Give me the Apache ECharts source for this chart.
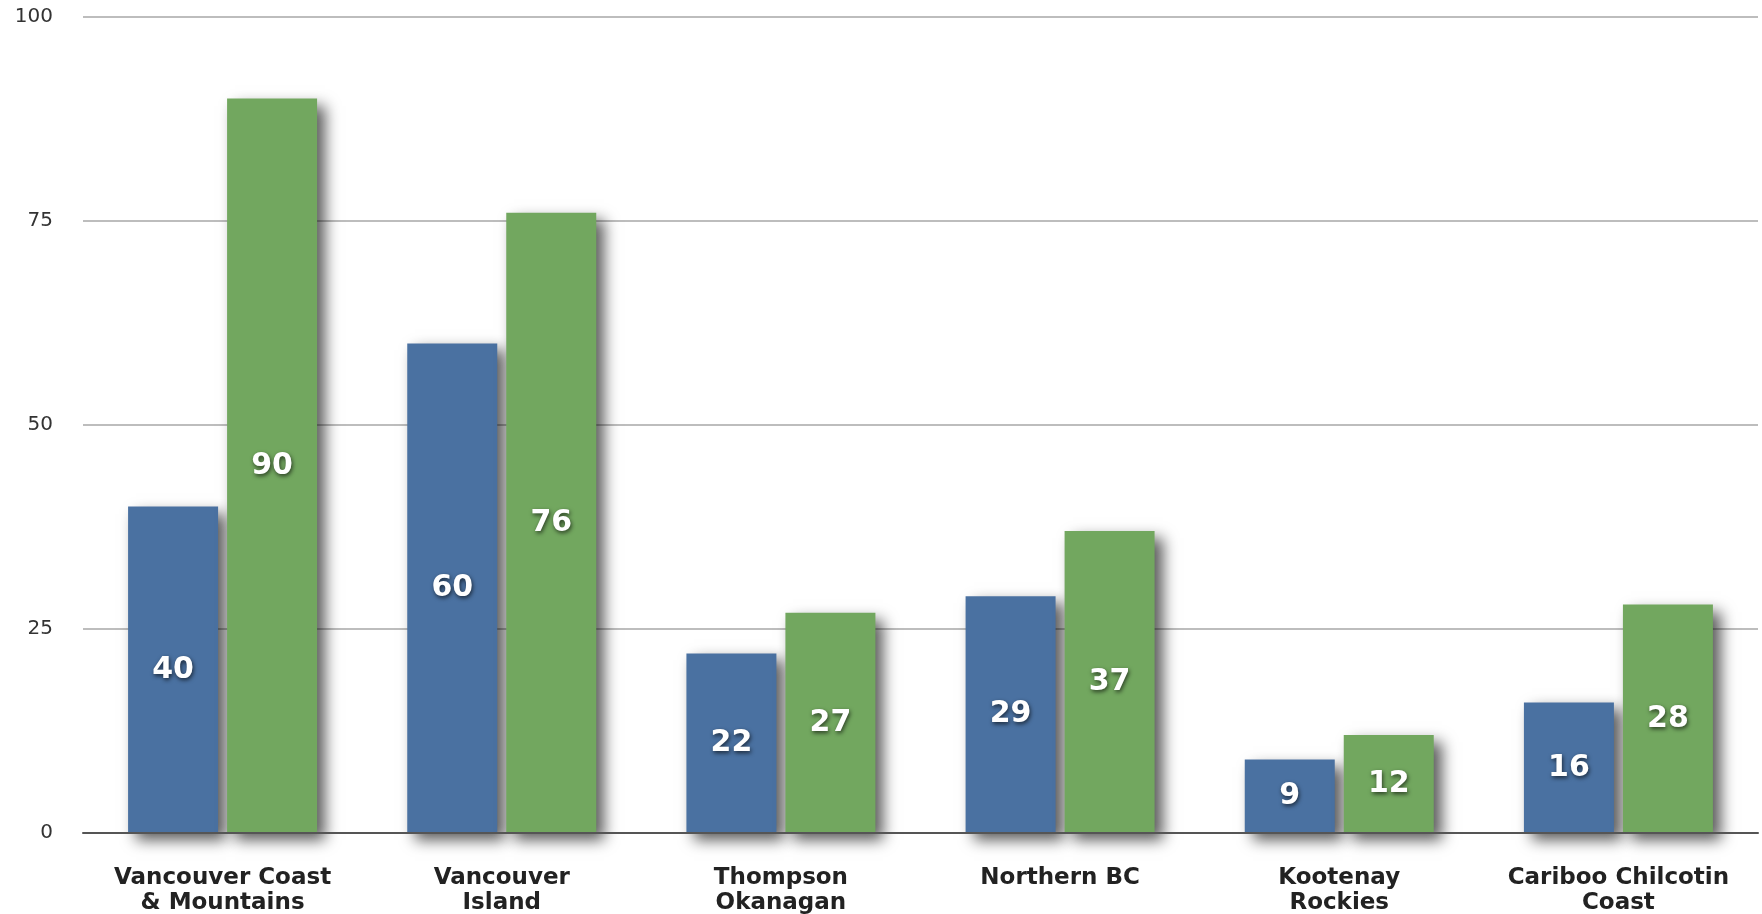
<!DOCTYPE html>
<html>
<head>
<meta charset="utf-8">
<title>Regions</title>
<script src="https://cdn.jsdelivr.net/npm/echarts@6/dist/echarts.min.js"></script>
<style>
  html, body { margin: 0; padding: 0; background: #fff; }
  #chart { width: 1762px; height: 914px; }
</style>
</head>
<body>
<div id="chart"></div>
<script>
// regions on the x axis
const regions = [
  'Vancouver Coast\n& Mountains',
  'Vancouver\nIsland',
  'Thompson\nOkanagan',
  'Northern BC',
  'Kootenay\nRockies',
  'Cariboo Chilcotin\nCoast'
]
// blue series
const blueValues = [40, 60, 22, 29, 9, 16]
// green series
const greenValues = [90, 76, 27, 37, 12, 28]
// y axis ticks
const yMin = 0
const yMax = 100
const yStep = 25

const chart = echarts.init(document.getElementById('chart'))

const barLabel = {
  show: true,
  position: 'inside',
  color: '#fff',
  fontFamily: 'DejaVu Sans',
  fontWeight: 'bold',
  fontSize: 30,
  textShadowColor: 'rgba(0,0,0,0.65)',
  textShadowBlur: 4,
  textShadowOffsetX: 1,
  textShadowOffsetY: 2
}

const barShadow = {
  shadowColor: 'rgba(0,0,0,0.65)',
  shadowBlur: 14,
  shadowOffsetX: 8,
  shadowOffsetY: 7
}

chart.setOption({
  animation: false,
  grid: { left: 83, right: 4, top: 17, bottom: 81, outerBoundsMode: 'none' },
  xAxis: {
    type: 'category',
    data: regions,
    axisLine: { show: true, lineStyle: { color: '#555', width: 2 } },
    axisTick: { show: false },
    axisLabel: {
      interval: 0,
      margin: 33,
      color: '#222',
      fontFamily: 'DejaVu Sans',
      fontWeight: 'bold',
      fontSize: 23,
      lineHeight: 25
    },
    z: 5
  },
  yAxis: {
    type: 'value',
    min: yMin,
    max: yMax,
    interval: yStep,
    axisLine: { show: false },
    axisTick: { show: false },
    axisLabel: {
      margin: 30,
      color: '#333',
      fontFamily: 'DejaVu Sans',
      fontSize: 20
    },
    splitLine: {
      lineStyle: { color: '#bdbdbd', width: 2 }
    }
  },
  series: [
    {
      type: 'bar',
      data: blueValues,
      barWidth: 90,
      barGap: '10%',
      itemStyle: Object.assign({ color: '#4a71a1' }, barShadow),
      label: barLabel
    },
    {
      type: 'bar',
      data: greenValues,
      barWidth: 90,
      itemStyle: Object.assign({ color: '#72a75f' }, barShadow),
      label: barLabel
    }
  ]
})
</script>
</body>
</html>
